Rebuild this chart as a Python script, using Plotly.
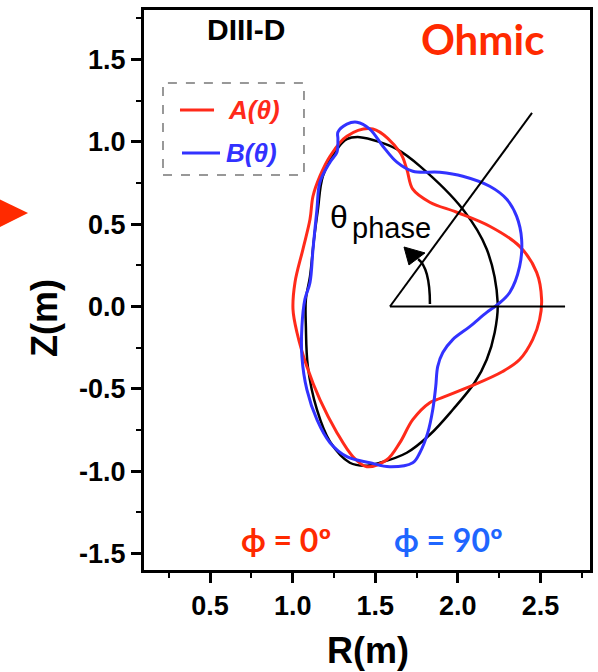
import plotly.graph_objects as go

# ---- data (R, Z in metres) ----
black_R = [1.407, 1.528, 1.631, 1.770, 2.030, 2.175, 2.241, 2.223, 2.175, 2.102, 1.969, 1.830,
           1.691, 1.528, 1.437, 1.346, 1.226, 1.147, 1.092, 1.080, 1.080, 1.105, 1.129, 1.153,
           1.183, 1.268, 1.328, 1.407]
black_Z = [1.028, 0.998, 0.955, 0.852, 0.590, 0.347, 0.024, -0.158, -0.322, -0.462, -0.627, -0.779,
           -0.888, -0.949, -0.967, -0.949, -0.821, -0.627, -0.365, -0.122, 0.043, 0.182, 0.408, 0.590,
           0.791, 0.955, 1.016, 1.028]

A_R = [1.485, 1.649, 1.691, 1.727, 1.830, 1.993, 2.193, 2.374, 2.477, 2.507, 2.495, 2.453, 2.374,
       2.271, 2.072, 1.872, 1.830, 1.727, 1.649, 1.570, 1.449, 1.365, 1.268, 1.165, 1.086, 1.026,
       1.002, 1.014, 1.062, 1.105, 1.123, 1.165, 1.226, 1.328, 1.485]
A_Z = [1.077, 0.937, 0.833, 0.712, 0.633, 0.572, 0.487, 0.365, 0.207, 0.043, -0.079, -0.201, -0.322,
       -0.395, -0.487, -0.566, -0.584, -0.687, -0.827, -0.931, -0.973, -0.912, -0.766, -0.566, -0.365, -0.158,
       -0.018, 0.146, 0.347, 0.529, 0.669, 0.791, 0.912, 1.034, 1.077]

B_R = [1.274, 1.328, 1.389, 1.467, 1.546, 1.631, 1.727, 1.891, 2.030, 2.193, 2.296, 2.356, 2.386,
       2.374, 2.314, 2.241, 2.175, 2.072, 1.969, 1.909, 1.878, 1.866, 1.848, 1.818, 1.770, 1.727,
       1.588, 1.467, 1.328, 1.226, 1.147, 1.086, 1.056, 1.056, 1.074, 1.105, 1.123, 1.147, 1.165,
       1.226, 1.268, 1.274, 1.274]
B_Z = [1.058, 1.107, 1.119, 1.077, 0.973, 0.876, 0.821, 0.815, 0.791, 0.730, 0.651, 0.547, 0.408,
       0.243, 0.085, 0.012, -0.036, -0.122, -0.201, -0.280, -0.365, -0.487, -0.627, -0.766, -0.888, -0.949,
       -0.973, -0.949, -0.912, -0.827, -0.687, -0.505, -0.304, -0.122, 0.043, 0.146, 0.347, 0.590, 0.754,
       0.876, 0.937, 1.016, 1.058]

x_range = [0.1, 2.8]
y_range = [-1.6, 1.8]
x_tickvals = [0.5, 1.0, 1.5, 2.0, 2.5]
x_ticktext = ["0.5", "1.0", "1.5", "2.0", "2.5"]
y_tickvals = [-1.5, -1.0, -0.5, 0.0, 0.5, 1.0, 1.5]
y_ticktext = ["-1.5", "-1.0", "-0.5", "0.0", "0.5", "1.0", "1.5"]

# theta_phase construction (data coords)
phase_origin = (1.589, 0.0)
phase_h_end = (2.649, 0.0)
phase_diag_end = (2.449, 1.175)
arc_pts = [(1.831, 0.015), (1.831, 0.234), (1.759, 0.288)]
arrow_head = [(1.674, 0.361), (1.704, 0.252), (1.801, 0.325)]

RED = "#ff2a1a"
BLUE = "#3232ff"
TXT_RED = "#ff2a00"
TXT_BLUE = "#1f66ff"

fig = go.Figure()
fig.add_trace(go.Scatter(x=black_R, y=black_Z, mode="lines",
                         line=dict(color="black", width=2.5, shape="spline", smoothing=1.0),
                         showlegend=False))
fig.add_trace(go.Scatter(x=A_R, y=A_Z, mode="lines",
                         line=dict(color=RED, width=3, shape="spline", smoothing=1.0),
                         showlegend=False))
fig.add_trace(go.Scatter(x=B_R, y=B_Z, mode="lines",
                         line=dict(color=BLUE, width=3, shape="spline", smoothing=1.0),
                         showlegend=False))

shapes = []
shapes.append(dict(type="line", xref="x", yref="y", x0=phase_origin[0], y0=phase_origin[1],
                   x1=phase_h_end[0], y1=phase_h_end[1], line=dict(color="black", width=2)))
shapes.append(dict(type="line", xref="x", yref="y", x0=phase_origin[0], y0=phase_origin[1],
                   x1=phase_diag_end[0], y1=phase_diag_end[1], line=dict(color="black", width=2)))
(a0, a1, a2) = arc_pts
shapes.append(dict(type="path", xref="x", yref="y",
                   path=f"M {a0[0]},{a0[1]} Q {a1[0]},{a1[1]} {a2[0]},{a2[1]}",
                   line=dict(color="black", width=2.5)))
(h0, h1, h2) = arrow_head
shapes.append(dict(type="path", xref="x", yref="y",
                   path=f"M {h0[0]},{h0[1]} L {h1[0]},{h1[1]} L {h2[0]},{h2[1]} Z",
                   fillcolor="black", line=dict(color="black", width=1)))
# legend box
shapes.append(dict(type="rect", xref="paper", yref="paper", x0=0.0426, x1=0.3587, y0=0.7054, y1=0.8696,
                   line=dict(color="#777777", width=1.5, dash="dash")))
shapes.append(dict(type="line", xref="paper", yref="paper", x0=0.0807, x1=0.157, y0=0.8214, y1=0.8214,
                   line=dict(color=RED, width=3)))
shapes.append(dict(type="line", xref="paper", yref="paper", x0=0.0852, x1=0.1704, y0=0.7446, y1=0.7446,
                   line=dict(color=BLUE, width=3)))
# red pointer triangle at left edge
shapes.append(dict(type="path", xref="paper", yref="paper",
                   path="M -0.260,0.6375 L -0.345,0.670 L -0.345,0.604 Z",
                   fillcolor="#ff2a00", line=dict(color="#ff2a00", width=0)))

ann = []
def A(text, x, y, size, color="black", bold=False, family="Liberation Sans", angle=0, italic=False):
    t = text
    if italic:
        t = "<i>" + t + "</i>"
    ann.append(dict(text=t, x=x, y=y, xref="paper", yref="paper", showarrow=False,
                    xanchor="center", yanchor="middle", textangle=angle,
                    font=dict(size=size, color=color, family=family,
                              weight="bold" if bold else "normal")))

A("DIII-D", 0.2287, 0.9643, 30, bold=True)
A("Ohmic", 0.760, 0.948, 42, color=TXT_RED, bold=True, family="Lato")
A("θ", 0.437, 0.630, 32)
A("phase", 0.556, 0.610, 29)
A("ϕ = 0º", 0.318, 0.0536, 32, color=TXT_RED, bold=True, family="Lato")
A("ϕ = 90º", 0.682, 0.0536, 32, color=TXT_BLUE, bold=True, family="Lato")
A("A(θ)", 0.2466, 0.8214, 26, color=RED, bold=True, italic=True)
A("B(θ)", 0.242, 0.7446, 26, color=BLUE, bold=True, italic=True)
A("R(m)", 0.502, -0.143, 36, bold=True)
A("Z(m)", -0.224, 0.45, 36, bold=True, angle=-90)

axis_common = dict(showline=True, linecolor="black", linewidth=3, mirror=True,
                   ticks="outside", ticklen=10, tickwidth=2.5, tickcolor="black",
                   showgrid=False, zeroline=False, automargin=False,
                   tickfont=dict(size=27, family="Liberation Sans", color="black", weight="bold"),
                   minor=dict(dtick=0.25, tick0=0, ticks="outside", ticklen=5, tickwidth=2,
                              tickcolor="black"))

fig.update_layout(
    width=598, height=672,
    margin=dict(l=144, r=8, t=10, b=102),
    paper_bgcolor="white", plot_bgcolor="white",
    xaxis=dict(range=x_range, tickvals=x_tickvals, ticktext=x_ticktext, **axis_common),
    yaxis=dict(range=y_range, tickvals=y_tickvals, ticktext=y_ticktext, **axis_common),
    shapes=shapes, annotations=ann, showlegend=False,
)

fig.write_html("out.html", config={"displayModeBar": False},
               post_script="document.body.style.margin='0';document.body.style.padding='0';")
